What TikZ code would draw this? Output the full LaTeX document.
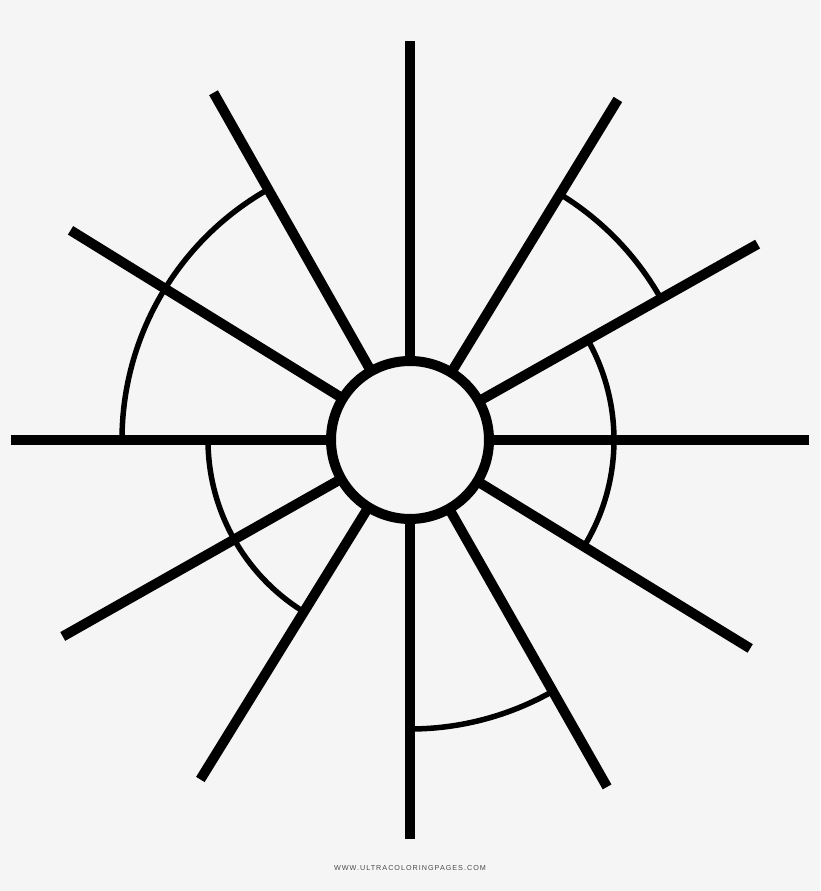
\documentclass[tikz,border=0pt]{standalone}
\usepackage{fontspec}
\setmainfont{Liberation Sans}
\definecolor{bg}{HTML}{F5F5F5}
\definecolor{credit}{HTML}{4A4A4A}
\begin{document}
\begin{tikzpicture}[x=1pt,y=1pt,
  spoke/.style={line width=10pt, black},
  arcline/.style={line width=5.5pt, black},
  hubstyle/.style={circle, draw=black, line width=10pt, fill=bg, minimum size=158pt, inner sep=0pt},
  creditstyle/.style={text=credit, font=\fontsize{7.2pt}{8pt}\selectfont\addfontfeatures{LetterSpace=14}, inner sep=0pt}]
\fill[bg] (0,0) rectangle (820,891);
\useasboundingbox (0,0) rectangle (820,891);
\coordinate (c) at (410,451);
% arcs
\draw[arcline] ([shift={(119.5:288pt)}]c) arc[start angle=119.5, end angle=180, radius=288pt];
\draw[arcline] ([shift={(29.4:288pt)}]c) arc[start angle=29.4, end angle=58.6, radius=288pt];
\draw[arcline] ([shift={(-31.5:204pt)}]c) arc[start angle=-31.5, end angle=29.4, radius=204pt];
\draw[arcline] ([shift={(180:202pt)}]c) arc[start angle=180, end angle=238.3, radius=202pt];
\draw[arcline] ([shift={(270:289pt)}]c) arc[start angle=270, end angle=299.6, radius=289pt];
% spokes
\foreach \n/\a in {a/0,b/29.4,d/58.6,e/90,f/119.5,g/148.3,h/180,i/209.5,j/238.3,k/270,l/299.6,m/328.5} {
  \coordinate (t\n) at ([shift={(\a:399pt)}]c);
  \draw[spoke] (c) -- (t\n);
}
\node[hubstyle] (hub) at (c) {};
\node[creditstyle] (credit) at (410,23) {WWW.ULTRACOLORINGPAGES.COM};
\end{tikzpicture}
\end{document}
